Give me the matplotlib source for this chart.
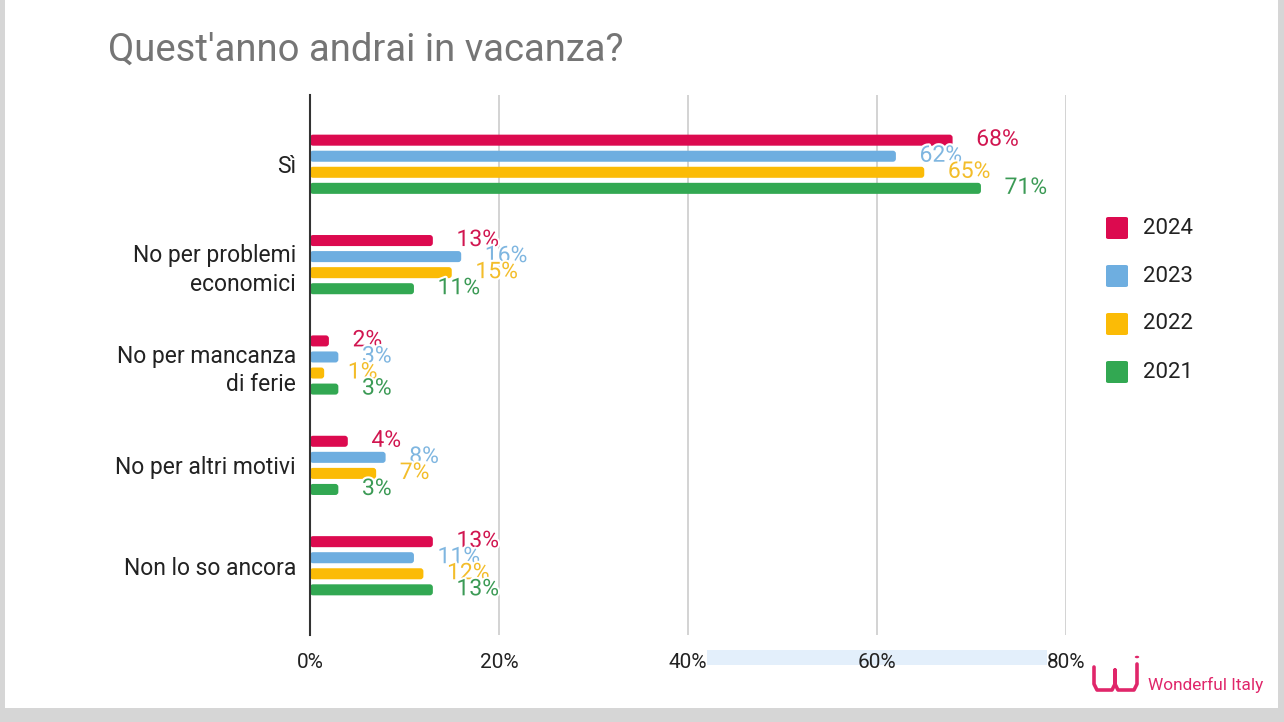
import matplotlib.pyplot as plt
import matplotlib.patheffects as pe
from matplotlib.patches import Rectangle, FancyBboxPatch, Circle
from matplotlib.lines import Line2D

plt.rcParams['font.family'] = ['Roboto', 'DejaVu Sans']

categories = ["Sì", "No per problemi\neconomici", "No per mancanza\ndi ferie",
              "No per altri motivi", "Non lo so ancora"]
years = ["2024", "2023", "2022", "2021"]
v2024 = [68, 13, 2, 4, 13]
v2023 = [62, 16, 3, 8, 11]
v2022 = [65, 15, 1, 7, 12]
v2021 = [71, 11, 3, 3, 13]
series = [v2024, v2023, v2022, v2021]
colors = ["#dc0a4f", "#6eaee0", "#fbbb06", "#32a852"]
label_colors = ["#d11650", "#7fb6e0", "#f3bd2a", "#3b9a55"]
xticks = [0, 20, 40, 60, 80]

W, H = 1284, 722
fig = plt.figure(figsize=(W / 100, H / 100), dpi=100)
fig.patch.set_facecolor("#d6d6d6")
# white card
fig.patches.append(Rectangle((5 / W, 14 / H), (1278 - 5) / W, (H - 14) / H,
                             transform=fig.transFigure, facecolor="white",
                             edgecolor="none", zorder=-5))

ax = fig.add_axes([310 / W, 1 - 635 / H, (1066 - 310) / W, (635 - 95) / H])
ax.set_facecolor("none")
ax.set_zorder(2)

ax.set_xlim(0, 80)
ax.set_ylim(4.69, -0.69)
xu = 80 / 756      # data units per pixel, x
yu = 5.38 / 540    # data units per pixel, y

bar_h = 0.11
step = 0.16
halo = [pe.withStroke(linewidth=3, foreground="white")]
for i, (vals, c, lc) in enumerate(zip(series, colors, label_colors)):
    for j, v in enumerate(vals):
        y = j + (i - 1.5) * step
        shown = max(v, 1.5)
        ax.add_patch(FancyBboxPatch((0, y - bar_h / 2), shown, bar_h,
                                    boxstyle=f"round,pad=0,rounding_size={3 * xu}",
                                    mutation_aspect=yu / xu,
                                    facecolor=c, edgecolor="none", zorder=3))
        ax.text(shown + 2.5, y - 0.01, f"{v}%", color=lc, fontsize=16.5,
                va="center", ha="left", zorder=4, path_effects=halo)

ax.set_xticks(xticks)
ax.set_xticklabels([f"{t}%" for t in xticks], fontsize=15, color="#222222")
ax.set_yticks(range(len(categories)))
ax.set_yticklabels(categories, fontsize=16.5, color="#222222", linespacing=1.3)
ax.tick_params(axis="both", length=0)
ax.tick_params(axis="x", pad=13)
ax.tick_params(axis="y", pad=10)
for s in ["top", "right", "bottom"]:
    ax.spines[s].set_visible(False)
ax.spines["left"].set_color("#333333")
ax.spines["left"].set_linewidth(1.5)
ax.spines["left"].set_zorder(5)
for t in xticks[1:]:
    ax.axvline(t, color="#cccccc", lw=1.2, zorder=1)

# light blue band under the tick labels
ax.add_patch(Rectangle((42, -0.028), 36, -0.028, transform=ax.get_xaxis_transform(),
                       facecolor="#e3effb", edgecolor="none", clip_on=False, zorder=0))

fig.text(108 / W, 1 - 50 / H, "Quest'anno andrai in vacanza?", fontsize=27.5,
         color="#757575", va="center", ha="left")

# legend
for i, (yr, c) in enumerate(zip(years, colors)):
    yc = 228 + i * 48
    fig.patches.append(FancyBboxPatch((1106 / W, 1 - (yc + 11) / H), 22 / W, 22 / H,
                                      boxstyle="round,pad=0,rounding_size=0.002",
                                      transform=fig.transFigure, facecolor=c,
                                      edgecolor="none"))
    fig.text(1143 / W, 1 - yc / H, yr, fontsize=16, color="#222222",
             va="center", ha="left")

# logo
pink = "#e0266a"
def px(xs, ys):
    return [x / W for x in xs], [1 - y / H for y in ys]
lx, ly = px([1094, 1094, 1097, 1112, 1115, 1115, 1115, 1118, 1134, 1137, 1137],
            [667, 684, 690, 690, 684, 670, 684, 690, 690, 684, 664])
fig.lines.append(Line2D(lx, ly, transform=fig.transFigure, color=pink, lw=2.6,
                        solid_capstyle="round", solid_joinstyle="round"))
fig.patches.append(Circle((1137 / W, 1 - 657 / H), 2.2 / W, transform=fig.transFigure,
                          facecolor=pink, edgecolor="none"))
fig.text(1148 / W, 1 - 685 / H, "Wonderful Italy", fontsize=12.4, color=pink,
         ha="left", va="center")

fig.savefig("out.png", dpi=100)
